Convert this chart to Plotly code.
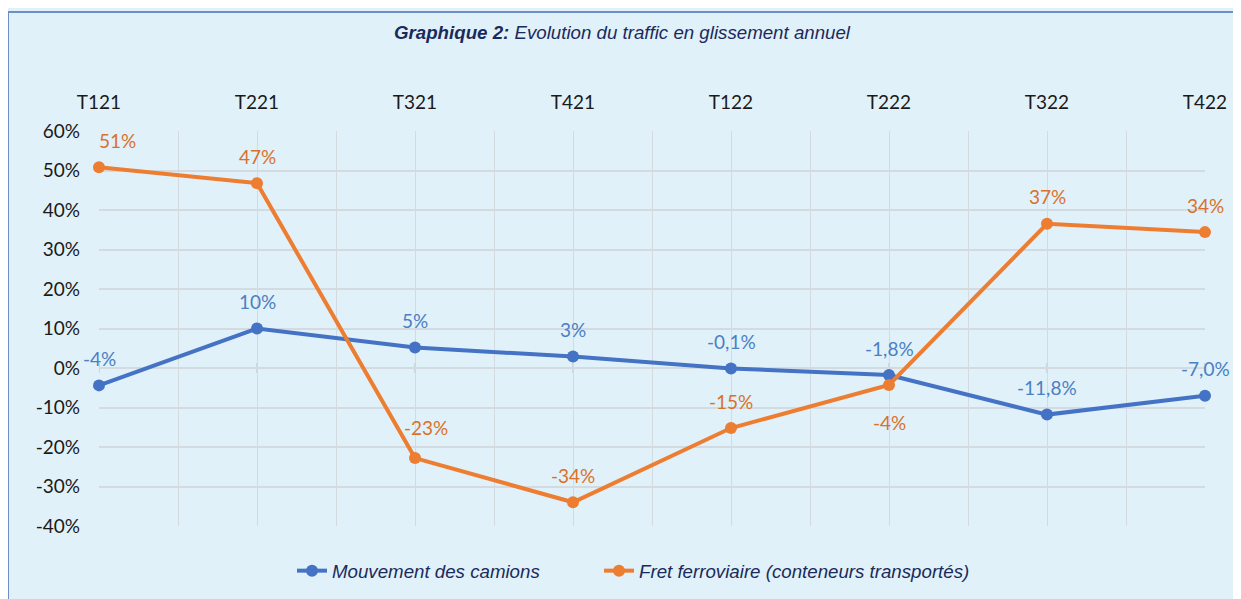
import plotly.graph_objects as go

# données (glissement annuel, en %)
trimestres = ["T121", "T221", "T321", "T421", "T122", "T222", "T322", "T422"]
camions = [-4.4, 10.0, 5.2, 2.9, -0.1, -1.8, -11.8, -7.0]
camions_labels = ["-4%", "10%", "5%", "3%", "-0,1%", "-1,8%", "-11,8%", "-7,0%"]
fret = [50.8, 46.8, -22.8, -34.0, -15.2, -4.3, 36.5, 34.4]
fret_labels = ["51%", "47%", "-23%", "-34%", "-15%", "-4%", "37%", "34%"]
y_ticks = [-40, -30, -20, -10, 0, 10, 20, 30, 40, 50, 60]
y_ticktext = ["-40%", "-30%", "-20%", "-10%", "0%", "10%", "20%",
              "30%", "40%", "50%", "60%"]

W, H = 1241, 599
OFF = 8  # marge du body de la page
L, R, T, B = 99 - OFF, 1205 - OFF, 131 - OFF, 526 - OFF  # zone de tracé

BLEU = "#4472C4"
ORANGE = "#ED7D31"
FOND = "#e1f1f9"
GRILLE = "#d3dbe0"
NAVY = "#1b2a5c"

# décalages (px) des étiquettes orange placées à la main
fret_dx = {0: 18, 2: 11}
fret_dy = {2: 31, 5: -38}


def px_x(p):
    return (p - OFF - L) / (R - L)


def px_y(p):
    return (B - (p - OFF)) / (B - T)


x = list(range(len(trimestres)))

fig = go.Figure()

fig.add_trace(go.Scatter(
    x=x, y=camions,
    mode="lines+markers",
    line=dict(color=BLEU, width=4),
    marker=dict(size=12, color=BLEU),
    name="Mouvement des camions",
    legend="legend",
    cliponaxis=False))

fig.add_trace(go.Scatter(
    x=x, y=fret,
    mode="lines+markers",
    line=dict(color=ORANGE, width=4),
    marker=dict(size=12, color=ORANGE),
    name="Fret ferroviaire (conteneurs transportés)",
    legend="legend2",
    cliponaxis=False))

# étiquettes de données
for xi, yi, lab in zip(x, camions, camions_labels):
    fig.add_annotation(x=xi, y=yi, text=lab, showarrow=False, yshift=27,
                       font=dict(family="Lato", size=19, color="#4a80c4"))
for i, (xi, yi, lab) in enumerate(zip(x, fret, fret_labels)):
    fig.add_annotation(x=xi, y=yi, text=lab, showarrow=False,
                       xshift=fret_dx.get(i, 0), yshift=fret_dy.get(i, 27),
                       font=dict(family="Lato", size=19, color="#d9712a"))

# petites graduations sur la ligne 0 %
for xi in x:
    fig.add_shape(type="line", xref="x", yref="y", x0=xi, x1=xi,
                  ysizemode="pixel", yanchor=0, y0=-5, y1=5,
                  line=dict(color="#c4ccd1", width=1.5), layer="below")

# cadre bleu autour du graphique
fig.add_shape(type="rect", xref="paper", yref="paper",
              x0=px_x(8), x1=px_x(1237), y0=px_y(660), y1=px_y(12),
              line=dict(color="#6b8fc9", width=2), layer="below")

legende = dict(
    orientation="h", xanchor="left",
    y=px_y(571), yanchor="middle",
    bgcolor="rgba(0,0,0,0)",
    font=dict(family="Liberation Sans", size=18.7, color=NAVY, style="italic"))

fig.update_layout(
    width=W, height=H,
    margin=dict(l=L, r=W - R, t=T, b=H - B),
    paper_bgcolor=FOND,
    plot_bgcolor=FOND,
    title=dict(
        text="<b><i>Graphique 2:</i></b><i> Evolution du traffic en glissement annuel</i>",
        xref="paper", x=px_x(622), xanchor="center",
        y=1 - (32 - OFF) / H, yanchor="middle",
        font=dict(family="Liberation Sans", size=18.7, color=NAVY)),
    xaxis=dict(
        side="top", range=[0, len(trimestres) - 1],
        tickvals=x, ticktext=trimestres,
        ticks="outside", ticklen=13, tickcolor="rgba(0,0,0,0)",
        showgrid=True, gridcolor=GRILLE, gridwidth=1,
        minor=dict(dtick=0.5, showgrid=True, gridcolor=GRILLE, gridwidth=1),
        showline=False, zeroline=False,
        tickfont=dict(family="Lato", size=19, color="#1a1a1a")),
    yaxis=dict(
        range=[-40, 60], tickvals=y_ticks, ticktext=y_ticktext,
        showgrid=True, gridcolor=GRILLE, gridwidth=2,
        zeroline=False, showline=False,
        ticklabelstandoff=18,
        tickfont=dict(family="Lato", size=19, color="#1a1a1a")),
    legend=dict(legende, x=px_x(292)),
    legend2=dict(legende, x=px_x(599)),
    showlegend=True,
)

fig.write_html("out.html")
